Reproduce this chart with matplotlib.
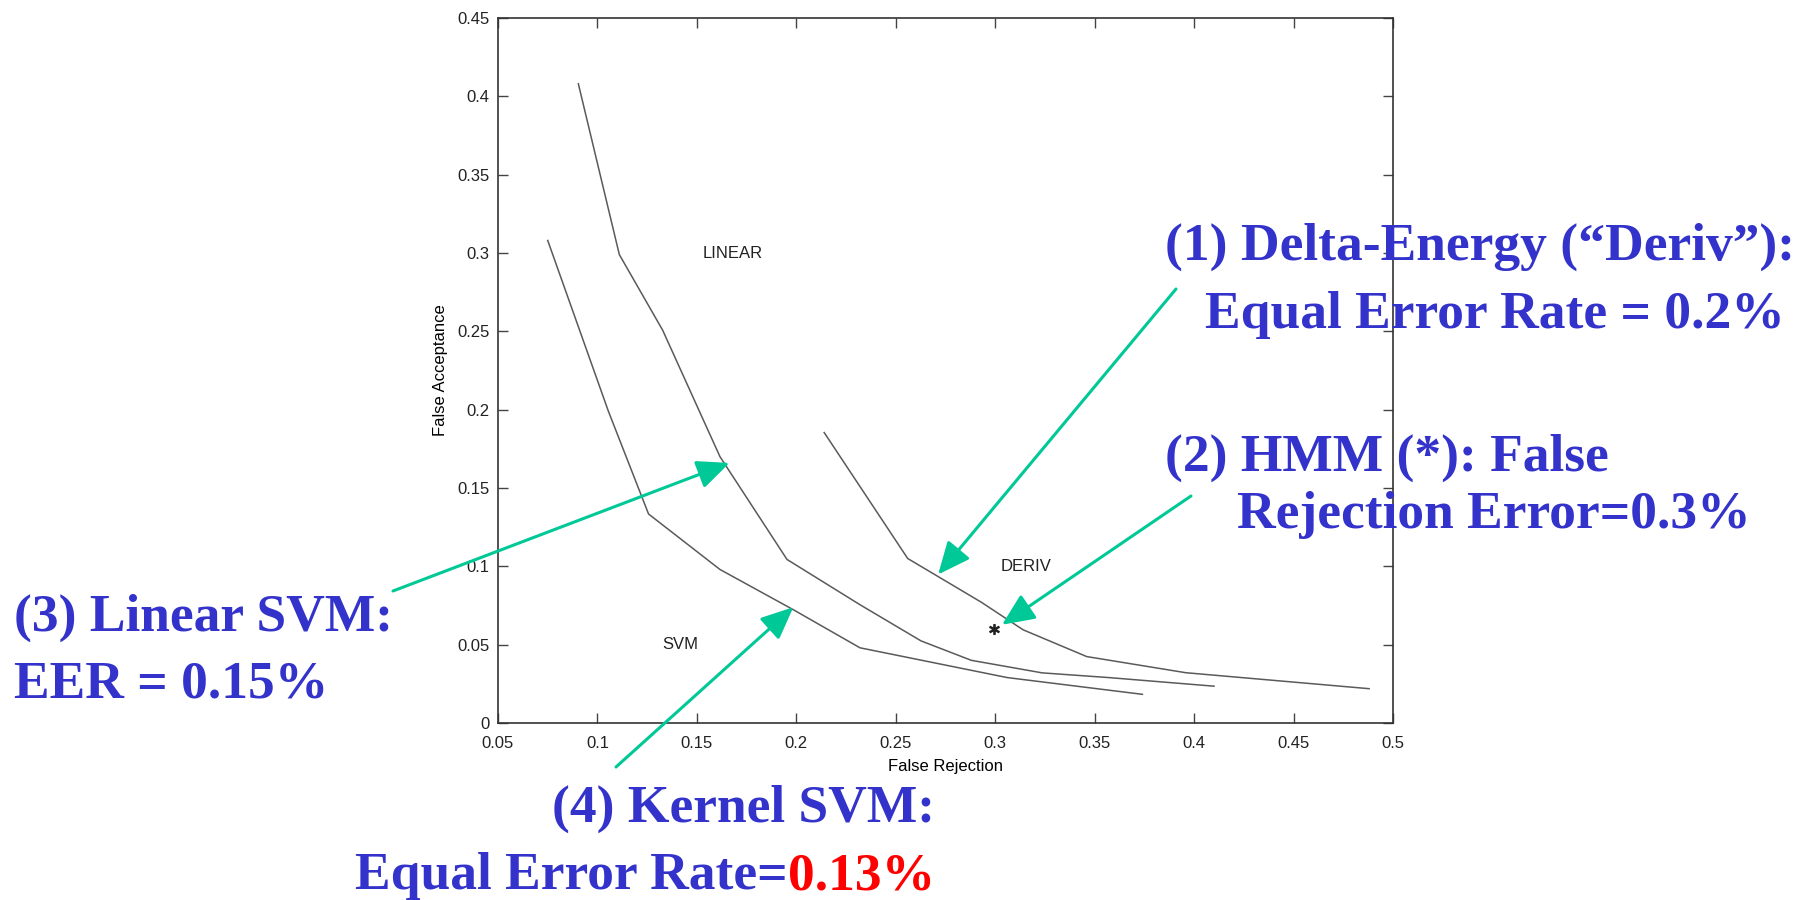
import matplotlib
matplotlib.use("Agg")
import matplotlib.pyplot as plt

# kernel SVM curve
svm_fr = [0.075, 0.1055, 0.1257, 0.1616, 0.1985, 0.232, 0.306, 0.374]
svm_fa = [0.308, 0.199, 0.1334, 0.098, 0.0723, 0.048, 0.029, 0.0183]

# linear SVM curve
linear_fr = [0.0904, 0.111, 0.1328, 0.1616, 0.1953, 0.232, 0.2627, 0.288, 0.3236, 0.357, 0.410]
linear_fa = [0.408, 0.299, 0.2507, 0.170, 0.1044, 0.0755, 0.0524, 0.040, 0.032, 0.029, 0.0235]

# delta-energy curve
deriv_fr = [0.214, 0.256, 0.293, 0.314, 0.346, 0.3958, 0.488]
deriv_fa = [0.1854, 0.105, 0.0771, 0.0595, 0.0424, 0.0321, 0.0219]

# HMM operating point
hmm_fr = [0.2995]
hmm_fa = [0.060]

curve_labels = ["LINEAR", "DERIV", "SVM"]
label_pos = [(0.168, 0.30), (0.3156, 0.0996), (0.1414, 0.0498)]

BLUE = "#3333cc"
TEAL = "#00c896"
RED = "#ff0000"
W, H = 1796, 900

fig = plt.figure(figsize=(W / 100, H / 100), dpi=100)
ax = fig.add_axes([498 / W, 1 - 723 / H, (1393 - 498) / W, (723 - 18) / H])

line_kw = dict(color="#5a5a5a", linewidth=1.1)
ax.plot(svm_fr, svm_fa, **line_kw)
ax.plot(linear_fr, linear_fa, **line_kw)
ax.plot(deriv_fr, deriv_fa, **line_kw)
ax.plot(hmm_fr, hmm_fa, linestyle="none", marker="$*$", color="#222222", markersize=7)

for txt, (x, y) in zip(curve_labels, label_pos):
    ax.text(x, y, txt, ha="center", va="center", fontsize=12,
            family="Liberation Sans", color="#222222")

ax.set_xlim(0.05, 0.5)
ax.set_ylim(0, 0.45)
ax.set_xticks([0.05, 0.1, 0.15, 0.2, 0.25, 0.3, 0.35, 0.4, 0.45, 0.5])
ax.set_xticklabels(["0.05", "0.1", "0.15", "0.2", "0.25", "0.3", "0.35", "0.4", "0.45", "0.5"])
ax.set_yticks([0, 0.05, 0.1, 0.15, 0.2, 0.25, 0.3, 0.35, 0.4, 0.45])
ax.set_yticklabels(["0", "0.05", "0.1", "0.15", "0.2", "0.25", "0.3", "0.35", "0.4", "0.45"])
ax.tick_params(direction="in", top=True, right=True, length=7, width=1,
               color="#444444", labelsize=12, labelcolor="#222222")
ax.tick_params(axis="x", pad=9)
ax.tick_params(axis="y", pad=6)
for lab in ax.get_xticklabels() + ax.get_yticklabels():
    lab.set_family("Liberation Sans")
for sp in ax.spines.values():
    sp.set_color("#333333")
    sp.set_linewidth(1.2)
ax.set_xlabel("False Rejection", fontsize=12, family="Liberation Sans", labelpad=6)
ax.set_ylabel("False Acceptance", fontsize=12, family="Liberation Sans", labelpad=7)

# annotation texts (figure pixel positions)
big = dict(fontsize=38.5, family="Liberation Serif", weight="bold", va="center")
fig.text(1165 / W, 1 - 247 / H, "(1) Delta-Energy (\u201cDeriv\u201d):", color=BLUE, ha="left", **big)
fig.text(1205 / W, 1 - 315 / H, "Equal Error Rate = 0.2%", color=BLUE, ha="left", **big)
fig.text(1165 / W, 1 - 458 / H, "(2) HMM (*): False", color=BLUE, ha="left", **big)
fig.text(1237 / W, 1 - 515 / H, "Rejection Error=0.3%", color=BLUE, ha="left", **big)
fig.text(14 / W, 1 - 618 / H, "(3) Linear SVM:", color=BLUE, ha="left", **big)
fig.text(14 / W, 1 - 685 / H, "EER = 0.15%", color=BLUE, ha="left", **big)
fig.text(552 / W, 1 - 809 / H, "(4) Kernel SVM:", color=BLUE, ha="left", **big)
fig.text(788 / W, 1 - 876 / H, "Equal Error Rate=", color=BLUE, ha="right", **big)
fig.text(788 / W, 1 - 876 / H, "0.13%", color=RED, ha="left", **big)

# arrows: tip in data coords, tail in figure pixels
arrows = [
    ((0.2713, 0.0948), (1176, H - 289)),
    ((0.3034, 0.0627), (1191, H - 496)),
    ((0.1664, 0.166), (393, H - 591)),
    ((0.1985, 0.0739), (616, H - 767)),
]
for tip, tail in arrows:
    ax.annotate("", xy=tip, xycoords="data", xytext=tail, textcoords="figure pixels",
                annotation_clip=False,
                arrowprops=dict(arrowstyle="-|>,head_length=0.9,head_width=0.4",
                                mutation_scale=22, color=TEAL, lw=2.2,
                                shrinkA=0, shrinkB=0))

fig.savefig("out.png", dpi=100)
